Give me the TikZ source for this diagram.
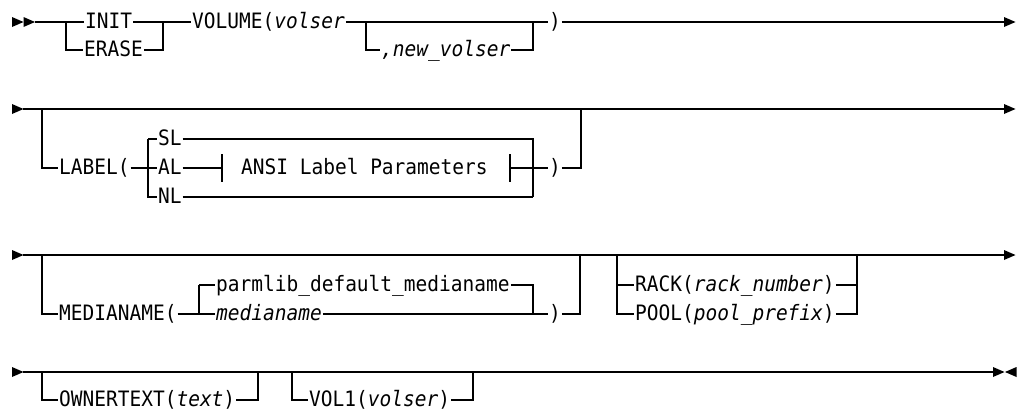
\documentclass[tikz,border=0pt]{standalone}
\usepackage{fontspec}
\setmonofont{DejaVu Sans Mono}[FakeStretch=0.92]
\def\tick{14}
\newcommand\railhead[2]{\fill ({#1},{#2-5}) -- ({#1+11.5},{#2}) -- ({#1},{#2+5}) -- cycle;}
\newcommand\railtail[2]{\fill ({#1+11.5},{#2-5}) -- ({#1},{#2}) -- ({#1+11.5},{#2+5}) -- cycle;}

\begin{document}
\begin{tikzpicture}[x=1pt,y=-1pt,line width=1.2pt]
\tikzset{kw/.style={anchor=west,inner xsep=0.5pt,inner ysep=0pt,text height=12.5pt,text depth=0pt,
  font=\ttfamily\fontsize{21.2}{24}\selectfont}}
\useasboundingbox (0,0) rectangle (1021,410);
% first line
\railhead{12}{22}
\railhead{23.5}{22}
\coordinate (r1s) at (35,22);
\coordinate (j1a) at (66,22);
\coordinate (j1b) at (163,22);
\coordinate (j1c) at (366,22);
\coordinate (j1d) at (533,22);
\coordinate (r1e) at (1004,22);
\node[kw] (init) at (84,22) {INIT};
\node[kw] (erase) at (83,50) {ERASE};
\node[kw] (volume) at (191,22) {VOLUME(\textit{volser}};
\node[kw] (newvol) at (380,50) {\textit{,new\_volser}};
\node[kw] (rp1) at (548,22) {)};
\draw (r1s) -- (init);
\draw (j1a) |- (erase);
\draw (erase) -| (j1b);
\draw (init) -- (volume);
\draw (volume) -- (rp1);
\draw (j1c) |- (newvol);
\draw (newvol) -| (j1d);
\draw (rp1) -- (r1e);
\railhead{1004}{22}
% second line
\railhead{12}{109}
\coordinate (r2s) at (23,109);
\coordinate (r2e) at (1004,109);
\coordinate (j2a) at (42,109);
\coordinate (j2b) at (148,139);
\coordinate (j2c) at (533,197);
\coordinate (j2d) at (581,109);
\coordinate (tl) at (222,168);
\coordinate (tr) at (510,168);
\node[kw] (label) at (58,168) {LABEL(};
\node[kw] (sl) at (157,139) {SL};
\node[kw] (al) at (157,168) {AL};
\node[kw] (nl) at (157,197) {NL};
\node[kw] (ansi) at (240,168) {ANSI Label Parameters};
\node[kw] (rp2) at (548,168) {)};
\draw (r2s) -- (r2e);
\draw (j2a) |- (label);
\draw (label) -- (al);
\draw (j2b) -- (sl);
\draw (j2b) |- (nl);
\draw (al) -- (tl);
\draw ([yshift=\tick pt]tl) -- ([yshift=-\tick pt]tl);
\draw ([yshift=\tick pt]tr) -- ([yshift=-\tick pt]tr);
\draw (tr) -- (rp2);
\draw (sl) -| (j2c);
\draw (nl) -- (j2c);
\draw (rp2) -| (j2d);
\railhead{1004}{109}
% third line
\railhead{12}{255}
\coordinate (r3s) at (23,255);
\coordinate (r3e) at (1004,255);
\coordinate (j3a) at (42,255);
\coordinate (j3b) at (199,285);
\coordinate (j3c) at (533,314);
\coordinate (j3d) at (580,255);
\coordinate (j3e) at (617,255);
\coordinate (j3f) at (857,255);
\node[kw] (media) at (58,314) {MEDIANAME(};
\node[kw] (pdef) at (215,285) {parmlib\_default\_medianame};
\node[kw] (mname) at (215,314) {\textit{medianame}};
\node[kw] (rp3) at (548,314) {)};
\node[kw] (rack) at (634,285) {RACK(\textit{rack\_number})};
\node[kw] (pool) at (634,314) {POOL(\textit{pool\_prefix})};
\draw (r3s) -- (r3e);
\draw (j3a) |- (media);
\draw (media) -- (mname);
\draw (j3b) -- (pdef);
\draw (j3b) -- (j3b |- mname);
\draw (pdef) -| (j3c);
\draw (mname) -- (rp3);
\draw (rp3) -| (j3d);
\draw (j3e) |- (pool);
\draw (j3e |- rack) -- (rack);
\draw (pool) -| (j3f);
\draw (rack) -- (rack -| j3f);
\railhead{1004}{255}
% fourth line
\railhead{12}{372}
\coordinate (r4s) at (23,372);
\coordinate (r4e) at (993,372);
\coordinate (j4a) at (42,372);
\coordinate (j4b) at (258,372);
\coordinate (j4c) at (292,372);
\coordinate (j4d) at (473,372);
\node[kw] (owner) at (58,400) {OWNERTEXT(\textit{text})};
\node[kw] (vol1) at (308,400) {VOL1(\textit{volser})};
\draw (r4s) -- (r4e);
\draw (j4a) |- (owner);
\draw (owner) -| (j4b);
\draw (j4c) |- (vol1);
\draw (vol1) -| (j4d);
\draw[line width=2.2pt] (479,371.6) -- (503,371.6);
\railhead{993}{372}
\railtail{1005}{372}
\end{tikzpicture}
\end{document}
